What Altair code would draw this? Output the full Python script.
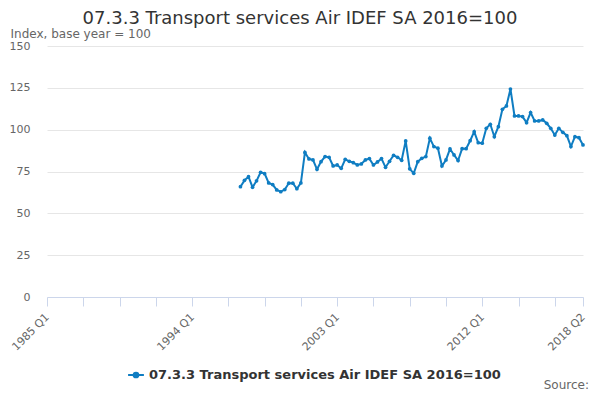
import pandas as pd
import altair as alt

# quarterly index, 1997 Q1 .. 2018 Q2
start_year = 1997
values = [
    65.9, 69.7, 71.9, 65.6, 69.4, 74.5, 73.7, 68.2,
    67.2, 64.0, 62.9, 64.2, 68.0, 68.0, 64.7, 68.2,
    86.4, 82.5, 81.9, 76.3, 80.9, 83.9, 83.5, 78.3,
    78.9, 76.9, 82.3, 81.1, 80.3, 78.9, 79.5, 81.9,
    82.7, 78.9, 80.7, 82.7, 77.5, 81.1, 84.7, 83.5,
    81.7, 93.3, 76.6, 73.9, 80.9, 82.9, 83.9, 94.9,
    89.9, 88.9, 78.3, 81.9, 88.5, 84.9, 81.5, 88.6,
    88.6, 93.4, 98.8, 92.2, 91.9, 100.8, 103.2, 95.8,
    101.8, 112.2, 114.2, 124.3, 108.2, 108.2, 107.8, 104.2,
    110.2, 105.2, 105.2, 105.8, 103.8, 100.8, 96.8, 100.8,
    98.4, 96.4, 89.9, 95.8, 95.2, 90.9,
]
axis_start = 1985
series_name = "07.3.3 Transport services Air IDEF SA 2016=100"
y_ticks = [0, 25, 50, 75, 100, 125, 150]
x_ticks = list(range(0, 127, 9)) + [133]
x_label_pos = [0, 36, 72, 108, 133]
x_label_text = ["1985 Q1", "1994 Q1", "2003 Q1", "2012 Q1", "2018 Q2"]

periods = []
offsets = []
for i in range(len(values)):
    year = start_year + i // 4
    q = i % 4 + 1
    periods.append(f"{year} Q{q}")
    offsets.append((year - axis_start) * 4 + (q - 1))

df = pd.DataFrame({"t": offsets, "period": periods, "value": values, "series": series_name})
labels_df = pd.DataFrame({"t": x_label_pos, "label": x_label_text})
one = pd.DataFrame({"k": [0]})

blue = "#0f7dc2"
font = "DejaVu Sans"

x_scale = alt.Scale(domain=[0, 133], nice=False, zero=False)
x_axis = alt.Axis(values=x_ticks, labels=False, grid=False,
                  domainColor="#ccd6eb", tickColor="#ccd6eb", tickSize=9,
                  title=None)

line = alt.Chart(df).mark_line(
    strokeWidth=2,
    point=alt.OverlayMarkDef(filled=True, size=14, color=blue),
).encode(
    x=alt.X("t:Q", scale=x_scale, axis=x_axis),
    y=alt.Y("value:Q", scale=alt.Scale(domain=[0, 150], nice=False),
            axis=alt.Axis(values=y_ticks, grid=True, gridColor="#e6e6e6", domain=False,
                          ticks=False, labelColor="#666666", labelFontSize=11,
                          labelPadding=17,
                          title="Index, base year = 100", titleAngle=0, titleAlign="left",
                          titleBaseline="alphabetic", titleX=-37, titleY=-9,
                          titleFontWeight="normal", titleColor="#666666",
                          titleFontSize=12)),
    color=alt.Color("series:N", scale=alt.Scale(range=[blue]),
                    legend=alt.Legend(title=None, orient="none", legendX=80, legendY=320,
                                      symbolType="M-1,0H1M-0.3,0A0.3,0.3 0 1,1 0.3,0A0.3,0.3 0 1,1 -0.3,0",
                                      symbolSize=250, symbolStrokeWidth=2,
                                      labelFontSize=13, labelFontWeight="bold",
                                      labelColor="#333333", labelLimit=400)),
    tooltip=["period:N", "value:Q"],
)

# rotated x tick labels
xlabels = alt.Chart(labels_df).mark_text(
    angle=315, align="right", baseline="top", dx=0, dy=-5,
    fontSize=11, color="#666666", font=font
).encode(x=alt.X("t:Q", scale=x_scale, axis=x_axis), y=alt.value(269), text="label:N")

title = alt.Chart(one).mark_text(
    text=series_name, align="center", baseline="alphabetic", fontSize=18,
    color="#333333", font=font
).encode(x=alt.value(253), y=alt.value(-22))

source = alt.Chart(one).mark_text(
    text="Source:", align="right", baseline="alphabetic", fontSize=12,
    color="#666666", font=font
).encode(x=alt.value(542), y=alt.value(343))

chart = (line + xlabels + title + source).properties(
    width=536,
    height=251,
    autosize=alt.AutoSizeParams(type="none"),
    padding={"left": 39, "top": 38, "right": 9, "bottom": 95},
).configure(font=font).configure_view(stroke=None)

chart.save("out.html", embed_options={"renderer": "svg", "actions": False})
